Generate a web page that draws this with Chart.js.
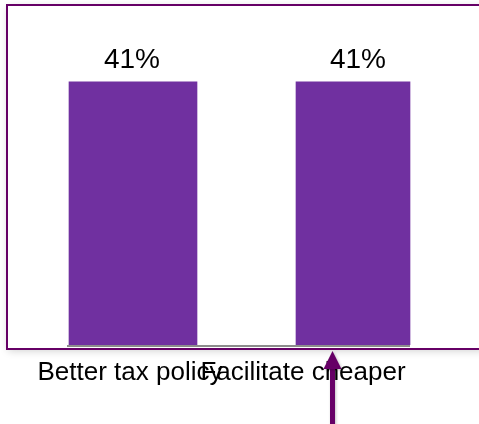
<!DOCTYPE html>
<html>
<head>
<meta charset="utf-8">
<script src="https://cdn.jsdelivr.net/npm/chart.js@4/dist/chart.umd.min.js"></script>
<style>
  html, body { margin: 0; padding: 0; background: #ffffff; }
  #chart { display: block; }
</style>
</head>
<body>
<canvas id="chart" width="479" height="424"></canvas>
<script>
// Survey answers and their shares (percent)
const categories = ['Better tax policy', 'Facilitate cheaper'];
const shares = [41, 41];
const valueLabels = ['41%', '41%'];

// Presentation constants
const BAR_COLOR = '#7030A0';
const FRAME_COLOR = '#660066';
const FONT = '"Liberation Sans", Arial, Helvetica, sans-serif';
const barWidths = [128, 114];
const categoryLabelShift = [-3, -50];
const valueLabelShift = [-1, 5];

// One dataset per bar so each can carry its own thickness
const datasets = shares.map((v, i) => ({
  label: categories[i],
  data: shares.map((_, j) => (j === i ? v : null)),
  backgroundColor: BAR_COLOR,
  borderWidth: 0,
  barThickness: barWidths[i],
  grouped: false
}));

const decorations = {
  id: 'decorations',
  beforeDraw(chart) {
    const ctx = chart.ctx;
    ctx.save();
    // framed panel with a soft drop shadow
    ctx.shadowColor = 'rgba(0,0,0,0.18)';
    ctx.shadowBlur = 8;
    ctx.shadowOffsetX = 1;
    ctx.shadowOffsetY = 2;
    ctx.fillStyle = '#ffffff';
    ctx.fillRect(7, 5, 476, 344);
    ctx.restore();
    ctx.save();
    ctx.strokeStyle = FRAME_COLOR;
    ctx.lineWidth = 2;
    ctx.strokeRect(7, 5, 476, 344);
    ctx.restore();
  },
  afterDatasetsDraw(chart) {
    const ctx = chart.ctx;
    const bars = chart.data.datasets.map((_, i) => chart.getDatasetMeta(i).data[i]);
    ctx.save();

    // baseline under the bars
    const first = bars[0], last = bars[bars.length - 1];
    ctx.strokeStyle = '#8c8c8c';
    ctx.lineWidth = 2;
    ctx.beginPath();
    ctx.moveTo(first.x - first.width / 2 - 2, first.base + 1);
    ctx.lineTo(last.x + last.width / 2, last.base + 1);
    ctx.stroke();

    // value labels above bars
    ctx.fillStyle = '#000000';
    ctx.textAlign = 'center';
    ctx.textBaseline = 'alphabetic';
    ctx.font = '28px ' + FONT;
    bars.forEach((bar, i) => {
      ctx.fillText(valueLabels[i], bar.x + valueLabelShift[i], bar.y - 14);
    });

    // category labels
    ctx.font = '26px ' + FONT;
    const xScale = chart.scales.x;
    categories.forEach((c, i) => {
      ctx.fillText(c, xScale.getPixelForValue(i) + categoryLabelShift[i], 380);
    });

    // pointer arrow
    ctx.fillStyle = FRAME_COLOR;
    ctx.shadowColor = 'rgba(0,0,0,0.25)';
    ctx.shadowBlur = 3;
    ctx.shadowOffsetX = 1;
    ctx.shadowOffsetY = 1;
    const ax = 332.5;
    ctx.fillRect(ax - 2.5, 366, 5, 60);
    ctx.beginPath();
    ctx.moveTo(ax, 351);
    ctx.lineTo(ax + 9, 369);
    ctx.lineTo(ax - 9, 369);
    ctx.closePath();
    ctx.fill();

    ctx.restore();
  }
};

new Chart(document.getElementById('chart'), {
  type: 'bar',
  data: { labels: categories, datasets },
  options: {
    responsive: false,
    animation: false,
    layout: { padding: { left: 23, right: 16, top: 24, bottom: 79 } },
    scales: {
      x: { display: false, offset: true },
      y: { display: false, min: 0, max: 50 }
    },
    plugins: {
      legend: { display: false },
      tooltip: { enabled: false }
    }
  },
  plugins: [decorations]
});
</script>
</body>
</html>
